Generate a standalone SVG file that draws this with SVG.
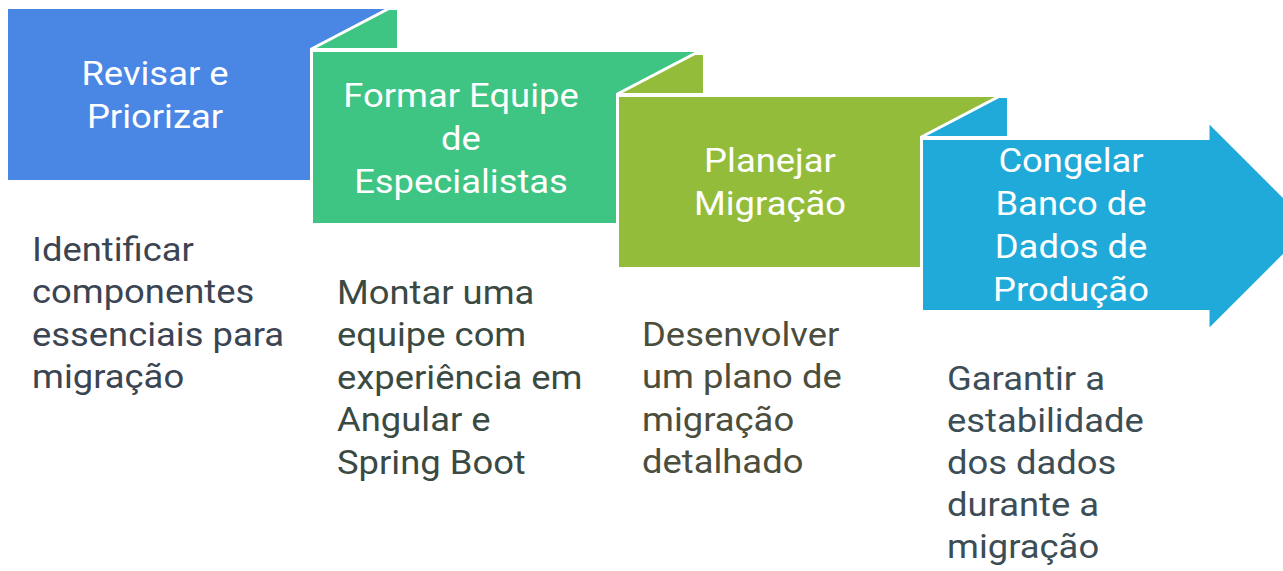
<svg xmlns="http://www.w3.org/2000/svg" width="1283" height="571" viewBox="0 0 1283 571">
<style>
.t{font-family:Roboto,"Liberation Sans",sans-serif;font-size:34px;fill:#ffffff;text-anchor:middle}
.d{font-family:Roboto,"Liberation Sans",sans-serif;font-size:34px}
.s{stroke:#ffffff;stroke-width:3}
</style>
<rect width="1283" height="571" fill="#ffffff"/>
<g id="step1">
<rect x="8" y="9" width="389" height="171" fill="#4a86e4"/>
<text class="t" transform="matrix(1.07,0,0,1,155,0)"><tspan x="0" y="85">Revisar e</tspan><tspan x="0" y="128">Priorizar</tspan></text>
<text class="d" fill="#3b4452" transform="matrix(1.07,0,0,1,32,0)"><tspan x="0" y="261">Identificar</tspan><tspan x="0" y="303.5">componentes</tspan><tspan x="0" y="346">essenciais para</tspan><tspan x="0" y="388.5">migração</tspan></text>
</g>
<g id="step2">
<polygon class="s" points="310.5,49.5 389,8.5 398.5,8.5 398.5,49.5" fill="#3ec483"/>
<rect class="s" x="311.5" y="50.5" width="392" height="174" fill="#3ec483"/>
<text class="t" transform="matrix(1.07,0,0,1,461,0)"><tspan x="0" y="107">Formar Equipe</tspan><tspan x="0" y="150">de</tspan><tspan x="0" y="193">Especialistas</tspan></text>
<text class="d" fill="#3a4a42" transform="matrix(1.07,0,0,1,337,0)"><tspan x="0" y="304">Montar uma</tspan><tspan x="0" y="346.5">equipe com</tspan><tspan x="0" y="389">experiência em</tspan><tspan x="0" y="431.5">Angular e</tspan><tspan x="0" y="474">Spring Boot</tspan></text>
</g>
<g id="step3">
<polygon class="s" points="616.5,94.5 695,53.5 704.5,53.5 704.5,94.5" fill="#94bc3b"/>
<rect class="s" x="617.5" y="95.5" width="392" height="173" fill="#94bc3b"/>
<text class="t" transform="matrix(1.07,0,0,1,770,0)"><tspan x="0" y="172">Planejar</tspan><tspan x="0" y="215">Migração</tspan></text>
<text class="d" fill="#4b4e3d" transform="matrix(1.07,0,0,1,642,0)"><tspan x="0" y="346">Desenvolver</tspan><tspan x="0" y="388.5">um plano de</tspan><tspan x="0" y="431">migração</tspan><tspan x="0" y="473.5">detalhado</tspan></text>
</g>
<g id="step4">
<polygon class="s" points="920.5,137.5 999,96.5 1008.5,96.5 1008.5,137.5" fill="#20aad9"/>
<polygon class="s" points="921.5,138.5 1208,138.5 1208,121 1313,226 1208,331 1208,311.5 921.5,311.5" fill="#20aad9"/>
<text class="t" transform="matrix(1.07,0,0,1,1071,0)"><tspan x="0" y="172">Congelar</tspan><tspan x="0" y="215">Banco de</tspan><tspan x="0" y="258">Dados de</tspan><tspan x="0" y="301">Produção</tspan></text>
<text class="d" fill="#3d4d56" transform="matrix(1.07,0,0,1,947,0)"><tspan x="0" y="390">Garantir a</tspan><tspan x="0" y="432">estabilidade</tspan><tspan x="0" y="474">dos dados</tspan><tspan x="0" y="516">durante a</tspan><tspan x="0" y="558">migração</tspan></text>
</g>
<g id="connectors"></g>
</svg>
